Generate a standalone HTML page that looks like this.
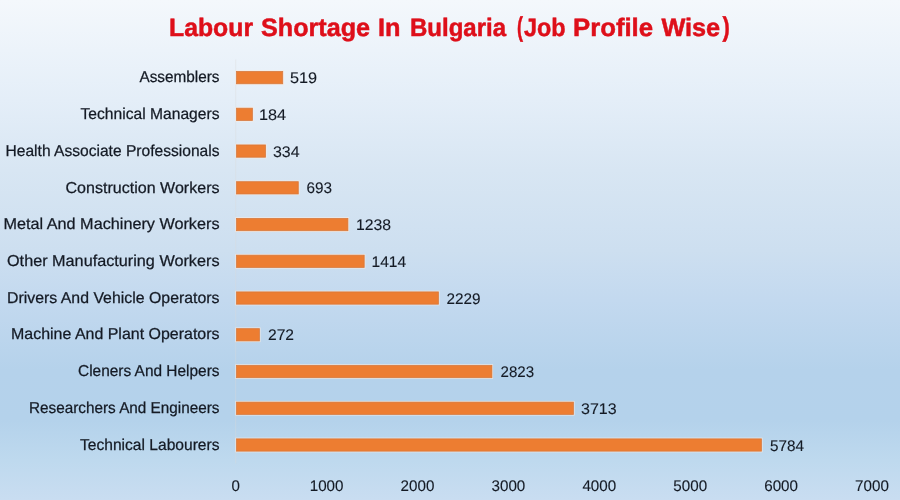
<!DOCTYPE html>
<html><head><meta charset="utf-8"><style>
html,body{margin:0;padding:0;width:900px;height:500px;overflow:hidden;background:#d5e4f3;}
svg{display:block;will-change:transform;}
text{font-family:"Liberation Sans",sans-serif;text-rendering:geometricPrecision;}
.t{fill:#141a24;stroke:#141a24;stroke-width:0.25px;}
.v{fill:#141a24;stroke:#141a24;stroke-width:0.12px;}
.h{fill:#de0f1a;stroke:#de0f1a;stroke-width:0.5px;font-weight:bold;}
</style></head><body>
<svg width="900" height="500" viewBox="0 0 900 500">
<defs><linearGradient id="bg" x1="0" y1="0" x2="0" y2="1">
<stop offset="0" stop-color="#f4f8fc"/>
<stop offset="0.2" stop-color="#e4eef8"/>
<stop offset="0.34" stop-color="#d8e6f3"/>
<stop offset="0.5" stop-color="#cddff0"/>
<stop offset="0.6" stop-color="#c3d9ef"/>
<stop offset="0.74" stop-color="#b5d2eb"/>
<stop offset="0.84" stop-color="#b4d2eb"/>
<stop offset="0.92" stop-color="#bed9ee"/>
<stop offset="1" stop-color="#c9ddf1"/>
</linearGradient></defs>
<rect x="0" y="0" width="900" height="500" fill="url(#bg)"/>
<text class="h" x="169.00" y="35.8" font-size="25.2" textLength="84.04" lengthAdjust="spacingAndGlyphs">Labour</text>
<text class="h" x="261.00" y="35.8" font-size="25.2" textLength="109.05" lengthAdjust="spacingAndGlyphs">Shortage</text>
<text class="h" x="378.00" y="35.8" font-size="25.2" textLength="22.47" lengthAdjust="spacingAndGlyphs">In</text>
<text class="h" x="410.00" y="35.8" font-size="25.2" textLength="96.04" lengthAdjust="spacingAndGlyphs">Bulgaria</text>
<text class="h" x="517.00" y="35.6" font-size="27.4" textLength="5.97" lengthAdjust="spacingAndGlyphs">(</text>
<text class="h" x="524.00" y="35.8" font-size="25.2" textLength="41.62" lengthAdjust="spacingAndGlyphs">Job</text>
<text class="h" x="573.00" y="35.8" font-size="25.2" textLength="80.09" lengthAdjust="spacingAndGlyphs">Profile</text>
<text class="h" x="661.40" y="35.8" font-size="25.2" textLength="58.81" lengthAdjust="spacingAndGlyphs">Wise</text>
<text class="h" x="722.40" y="35.6" font-size="27.4" textLength="7.29" lengthAdjust="spacingAndGlyphs">)</text>
<rect x="235.2" y="59.5" width="1" height="404" fill="#d9d9d9" opacity="0.4"/>
<rect x="235.30" y="70.25" width="48.60" height="14.70" fill="#f8ebe0" opacity="0.75"/>
<rect x="236.50" y="71.45" width="46.20" height="12.30" fill="#ed7d31" stroke="#d4763b" stroke-width="0.8" stroke-opacity="0.9"/>
<text x="139.50" y="82.30" class="t" font-size="15.8" textLength="80.02" lengthAdjust="spacingAndGlyphs">Assemblers</text>
<text x="290.00" y="83.10" class="v" font-size="15.4" textLength="27.17" lengthAdjust="spacingAndGlyphs">519</text>
<rect x="235.30" y="106.99" width="18.30" height="14.70" fill="#f8ebe0" opacity="0.75"/>
<rect x="236.50" y="108.19" width="15.90" height="12.30" fill="#ed7d31" stroke="#d4763b" stroke-width="0.8" stroke-opacity="0.9"/>
<text x="80.50" y="119.04" class="t" font-size="15.8" textLength="139.00" lengthAdjust="spacingAndGlyphs">Technical Managers</text>
<text x="259.00" y="119.84" class="v" font-size="15.4" textLength="27.15" lengthAdjust="spacingAndGlyphs">184</text>
<rect x="235.30" y="143.73" width="31.40" height="14.70" fill="#f8ebe0" opacity="0.75"/>
<rect x="236.50" y="144.93" width="29.00" height="12.30" fill="#ed7d31" stroke="#d4763b" stroke-width="0.8" stroke-opacity="0.9"/>
<text x="5.50" y="155.78" class="t" font-size="15.8" textLength="214.01" lengthAdjust="spacingAndGlyphs">Health Associate Professionals</text>
<text x="273.00" y="156.58" class="v" font-size="15.4" textLength="26.63" lengthAdjust="spacingAndGlyphs">334</text>
<rect x="235.30" y="180.47" width="64.20" height="14.70" fill="#f8ebe0" opacity="0.75"/>
<rect x="236.50" y="181.67" width="61.80" height="12.30" fill="#ed7d31" stroke="#d4763b" stroke-width="0.8" stroke-opacity="0.9"/>
<text x="65.50" y="192.52" class="t" font-size="15.8" textLength="154.01" lengthAdjust="spacingAndGlyphs">Construction Workers</text>
<text x="306.50" y="193.32" class="v" font-size="15.4" textLength="25.54" lengthAdjust="spacingAndGlyphs">693</text>
<rect x="235.30" y="217.21" width="113.80" height="14.70" fill="#f8ebe0" opacity="0.75"/>
<rect x="236.50" y="218.41" width="111.40" height="12.30" fill="#ed7d31" stroke="#d4763b" stroke-width="0.8" stroke-opacity="0.9"/>
<text x="3.50" y="229.26" class="t" font-size="15.8" textLength="216.01" lengthAdjust="spacingAndGlyphs">Metal And Machinery Workers</text>
<text x="356.00" y="230.06" class="v" font-size="15.4" textLength="35.08" lengthAdjust="spacingAndGlyphs">1238</text>
<rect x="235.30" y="253.95" width="130.10" height="14.70" fill="#f8ebe0" opacity="0.75"/>
<rect x="236.50" y="255.15" width="127.70" height="12.30" fill="#ed7d31" stroke="#d4763b" stroke-width="0.8" stroke-opacity="0.9"/>
<text x="7.00" y="266.00" class="t" font-size="15.8" textLength="212.50" lengthAdjust="spacingAndGlyphs">Other Manufacturing Workers</text>
<text x="371.50" y="266.80" class="v" font-size="15.4" textLength="34.62" lengthAdjust="spacingAndGlyphs">1414</text>
<rect x="235.30" y="290.69" width="204.30" height="14.70" fill="#f8ebe0" opacity="0.75"/>
<rect x="236.50" y="291.89" width="201.90" height="12.30" fill="#ed7d31" stroke="#d4763b" stroke-width="0.8" stroke-opacity="0.9"/>
<text x="7.00" y="302.74" class="t" font-size="15.8" textLength="212.51" lengthAdjust="spacingAndGlyphs">Drivers And Vehicle Operators</text>
<text x="446.50" y="303.54" class="v" font-size="15.4" textLength="34.05" lengthAdjust="spacingAndGlyphs">2229</text>
<rect x="235.30" y="327.43" width="25.30" height="14.70" fill="#f8ebe0" opacity="0.75"/>
<rect x="236.50" y="328.63" width="22.90" height="12.30" fill="#ed7d31" stroke="#d4763b" stroke-width="0.8" stroke-opacity="0.9"/>
<text x="11.00" y="339.48" class="t" font-size="15.8" textLength="208.51" lengthAdjust="spacingAndGlyphs">Machine And Plant Operators</text>
<text x="268.00" y="340.28" class="v" font-size="15.4" textLength="26.06" lengthAdjust="spacingAndGlyphs">272</text>
<rect x="235.30" y="364.17" width="257.80" height="14.70" fill="#f8ebe0" opacity="0.75"/>
<rect x="236.50" y="365.37" width="255.40" height="12.30" fill="#ed7d31" stroke="#d4763b" stroke-width="0.8" stroke-opacity="0.9"/>
<text x="78.00" y="376.22" class="t" font-size="15.8" textLength="141.50" lengthAdjust="spacingAndGlyphs">Cleners And Helpers</text>
<text x="500.50" y="377.02" class="v" font-size="15.4" textLength="33.57" lengthAdjust="spacingAndGlyphs">2823</text>
<rect x="235.30" y="400.91" width="339.30" height="14.70" fill="#f8ebe0" opacity="0.75"/>
<rect x="236.50" y="402.11" width="336.90" height="12.30" fill="#ed7d31" stroke="#d4763b" stroke-width="0.8" stroke-opacity="0.9"/>
<text x="29.00" y="412.96" class="t" font-size="15.8" textLength="190.51" lengthAdjust="spacingAndGlyphs">Researchers And Engineers</text>
<text x="581.00" y="413.76" class="v" font-size="15.4" textLength="35.61" lengthAdjust="spacingAndGlyphs">3713</text>
<rect x="235.30" y="437.65" width="527.30" height="14.70" fill="#f8ebe0" opacity="0.75"/>
<rect x="236.50" y="438.85" width="524.90" height="12.30" fill="#ed7d31" stroke="#d4763b" stroke-width="0.8" stroke-opacity="0.9"/>
<text x="80.00" y="449.70" class="t" font-size="15.8" textLength="139.51" lengthAdjust="spacingAndGlyphs">Technical Labourers</text>
<text x="770.00" y="450.50" class="v" font-size="15.4" textLength="34.02" lengthAdjust="spacingAndGlyphs">5784</text>
<text x="235.7" y="490.7" text-anchor="middle" class="v" font-size="15.4" textLength="8.4" lengthAdjust="spacingAndGlyphs">0</text>
<text x="326.6" y="490.7" text-anchor="middle" class="v" font-size="15.4" textLength="33.8" lengthAdjust="spacingAndGlyphs">1000</text>
<text x="417.5" y="490.7" text-anchor="middle" class="v" font-size="15.4" textLength="33.8" lengthAdjust="spacingAndGlyphs">2000</text>
<text x="508.4" y="490.7" text-anchor="middle" class="v" font-size="15.4" textLength="33.8" lengthAdjust="spacingAndGlyphs">3000</text>
<text x="599.3" y="490.7" text-anchor="middle" class="v" font-size="15.4" textLength="33.8" lengthAdjust="spacingAndGlyphs">4000</text>
<text x="690.2" y="490.7" text-anchor="middle" class="v" font-size="15.4" textLength="33.8" lengthAdjust="spacingAndGlyphs">5000</text>
<text x="781.1" y="490.7" text-anchor="middle" class="v" font-size="15.4" textLength="33.8" lengthAdjust="spacingAndGlyphs">6000</text>
<text x="872.0" y="490.7" text-anchor="middle" class="v" font-size="15.4" textLength="33.8" lengthAdjust="spacingAndGlyphs">7000</text>
</svg>
</body></html>
